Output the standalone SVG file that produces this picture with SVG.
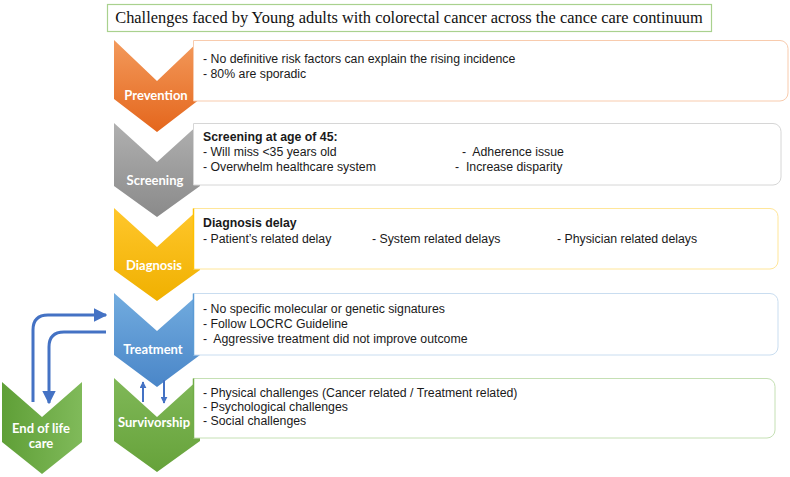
<svg xmlns="http://www.w3.org/2000/svg" width="790" height="477" viewBox="0 0 790 477">
<defs>
<linearGradient id="gO" x1="0" y1="0" x2="0" y2="1"><stop offset="0" stop-color="#f39a5c"/><stop offset="1" stop-color="#e4661c"/></linearGradient>
<linearGradient id="gG" x1="0" y1="0" x2="0" y2="1"><stop offset="0" stop-color="#b0b0b0"/><stop offset="1" stop-color="#8a8a8a"/></linearGradient>
<linearGradient id="gY" x1="0" y1="0" x2="0" y2="1"><stop offset="0" stop-color="#ffc72c"/><stop offset="1" stop-color="#f0b000"/></linearGradient>
<linearGradient id="gB" x1="0" y1="0" x2="0" y2="1"><stop offset="0" stop-color="#72acdf"/><stop offset="1" stop-color="#4a86c8"/></linearGradient>
<linearGradient id="gN" x1="0" y1="0" x2="0" y2="1"><stop offset="0" stop-color="#80b858"/><stop offset="1" stop-color="#66a23a"/></linearGradient>
<linearGradient id="gE" x1="0" y1="0" x2="1" y2="0"><stop offset="0" stop-color="#5f9f37"/><stop offset="1" stop-color="#80ba5a"/></linearGradient>
<marker id="ah" viewBox="0 0 10 10" refX="9" refY="5" markerWidth="4.5" markerHeight="4.5" markerUnits="strokeWidth" orient="auto"><path d="M0 0L10 5L0 10z" fill="#4472c4"/></marker>
<marker id="ahs" viewBox="0 0 10 10" refX="9" refY="5" markerWidth="3.5" markerHeight="3.5" markerUnits="strokeWidth" orient="auto"><path d="M0 0L10 5L0 10z" fill="#4472c4"/></marker>
</defs>
<style>
.lbl{font-family:Lato,"Open Sans",sans-serif;font-weight:700;font-size:13px;fill:#fff;text-anchor:middle}
.t{font-family:"Liberation Sans",Arial,sans-serif;font-size:12.3px;fill:#1a1a1a;white-space:pre}
.b{font-weight:700}
.title{font-family:"Liberation Serif","Times New Roman",serif;font-size:16.4px;fill:#111;text-anchor:middle}
.box{fill:#fff;stroke-width:1}
.conn{fill:none;stroke:#4472c4;stroke-width:3}
.conns{fill:none;stroke:#4472c4;stroke-width:2}
</style>
<g id="title">
<rect x="107.5" y="4.5" width="604" height="27" fill="#fff" stroke="#a9d18e" stroke-width="1.2"/>
<text class="title" x="409" y="23">Challenges faced by Young adults with colorectal cancer across the cance care continuum</text>
</g>
<g id="prevention">
<path d="M114 40L157 81L200 40V99L157 132L114 99Z" fill="url(#gO)"/>
<path class="box" d="M193.5 40.5H780a8 8 0 0 1 8 8V93a8 8 0 0 1-8 8H193.5Z" stroke="#f8cbad"/>
<text class="lbl" x="156" y="100">Prevention</text>
<text class="t" x="203" y="63">- No definitive risk factors can explain the rising incidence</text>
<text class="t" x="203" y="78">- 80% are sporadic</text>
</g>
<g id="screening">
<path d="M114 123L157 162L200 123V186L157 217L114 186Z" fill="url(#gG)"/>
<path class="box" d="M193.5 123.5H773a8 8 0 0 1 8 8V177a8 8 0 0 1-8 8H193.5Z" stroke="#d6d6d6"/>
<text class="lbl" x="155" y="185">Screening</text>
<text class="t b" x="203" y="141">Screening at age of 45:</text>
<text class="t" x="203" y="156">- Will miss &lt;35 years old</text>
<text class="t" x="203" y="171">- Overwhelm healthcare system</text>
<text class="t" x="462" y="156">-  Adherence issue</text>
<text class="t" x="455" y="171">-  Increase disparity</text>
</g>
<g id="diagnosis">
<path d="M114 208L157 247L200 208V270L157 301L114 270Z" fill="url(#gY)"/>
<path class="box" d="M193.5 208.5H770a8 8 0 0 1 8 8V261a8 8 0 0 1-8 8H193.5Z" stroke="#ffe699"/>
<line x1="193.5" y1="208.5" x2="193.5" y2="269" stroke="#ffc000" stroke-width="1.5"/>
<text class="lbl" x="154" y="270">Diagnosis</text>
<text class="t b" x="203" y="227">Diagnosis delay</text>
<text class="t" x="203" y="243">- Patient’s related delay</text>
<text class="t" x="372" y="243">- System related delays</text>
<text class="t" x="557" y="243">- Physician related delays</text>
</g>
<g id="treatment">
<path d="M114 293L157 331L200 293V355L157 387L114 355Z" fill="url(#gB)"/>
<path class="box" d="M193.5 293.5H770a8 8 0 0 1 8 8V347a8 8 0 0 1-8 8H193.5Z" stroke="#c9ddf0"/>
<line x1="193.5" y1="293.5" x2="193.5" y2="355" stroke="#5b9bd5" stroke-width="1.5"/>
<text class="lbl" x="153" y="354">Treatment</text>
<text class="t" x="203" y="313">- No specific molecular or genetic signatures</text>
<text class="t" x="203" y="328">- Follow LOCRC Guideline</text>
<text class="t" x="203" y="343">-  Aggressive treatment did not improve outcome</text>
</g>
<g id="survivorship">
<path d="M114 378L157 417L200 378V441L157 472L114 441Z" fill="url(#gN)"/>
<path class="box" d="M193.5 378.5H767a8 8 0 0 1 8 8V430a8 8 0 0 1-8 8H193.5Z" stroke="#c5e0b4"/>
<line x1="193.5" y1="378.5" x2="193.5" y2="438" stroke="#70ad47" stroke-width="1.5"/>
<text class="lbl" x="154" y="427">Survivorship</text>
<text class="t" x="203" y="397">- Physical challenges (Cancer related / Treatment related)</text>
<text class="t" x="203" y="411">- Psychological challenges</text>
<text class="t" x="203" y="425">- Social challenges</text>
</g>
<g id="end-of-life">
<path d="M2 382L42 417L82 382V442L42 474L2 442Z" fill="url(#gE)"/>
<text class="lbl" x="41" y="433">End of life</text>
<text class="lbl" x="41" y="448">care</text>
</g>
<g id="connectors">
<path class="conn" d="M33 402V330Q33 315 48 315H106" marker-end="url(#ah)"/>
<path class="conn" d="M106 332H64Q49 332 49 347V403" marker-end="url(#ah)"/>
<path class="conns" d="M143 402V382" marker-end="url(#ahs)"/>
<path class="conns" d="M164 380V403" marker-end="url(#ahs)"/>
</g>
</svg>
